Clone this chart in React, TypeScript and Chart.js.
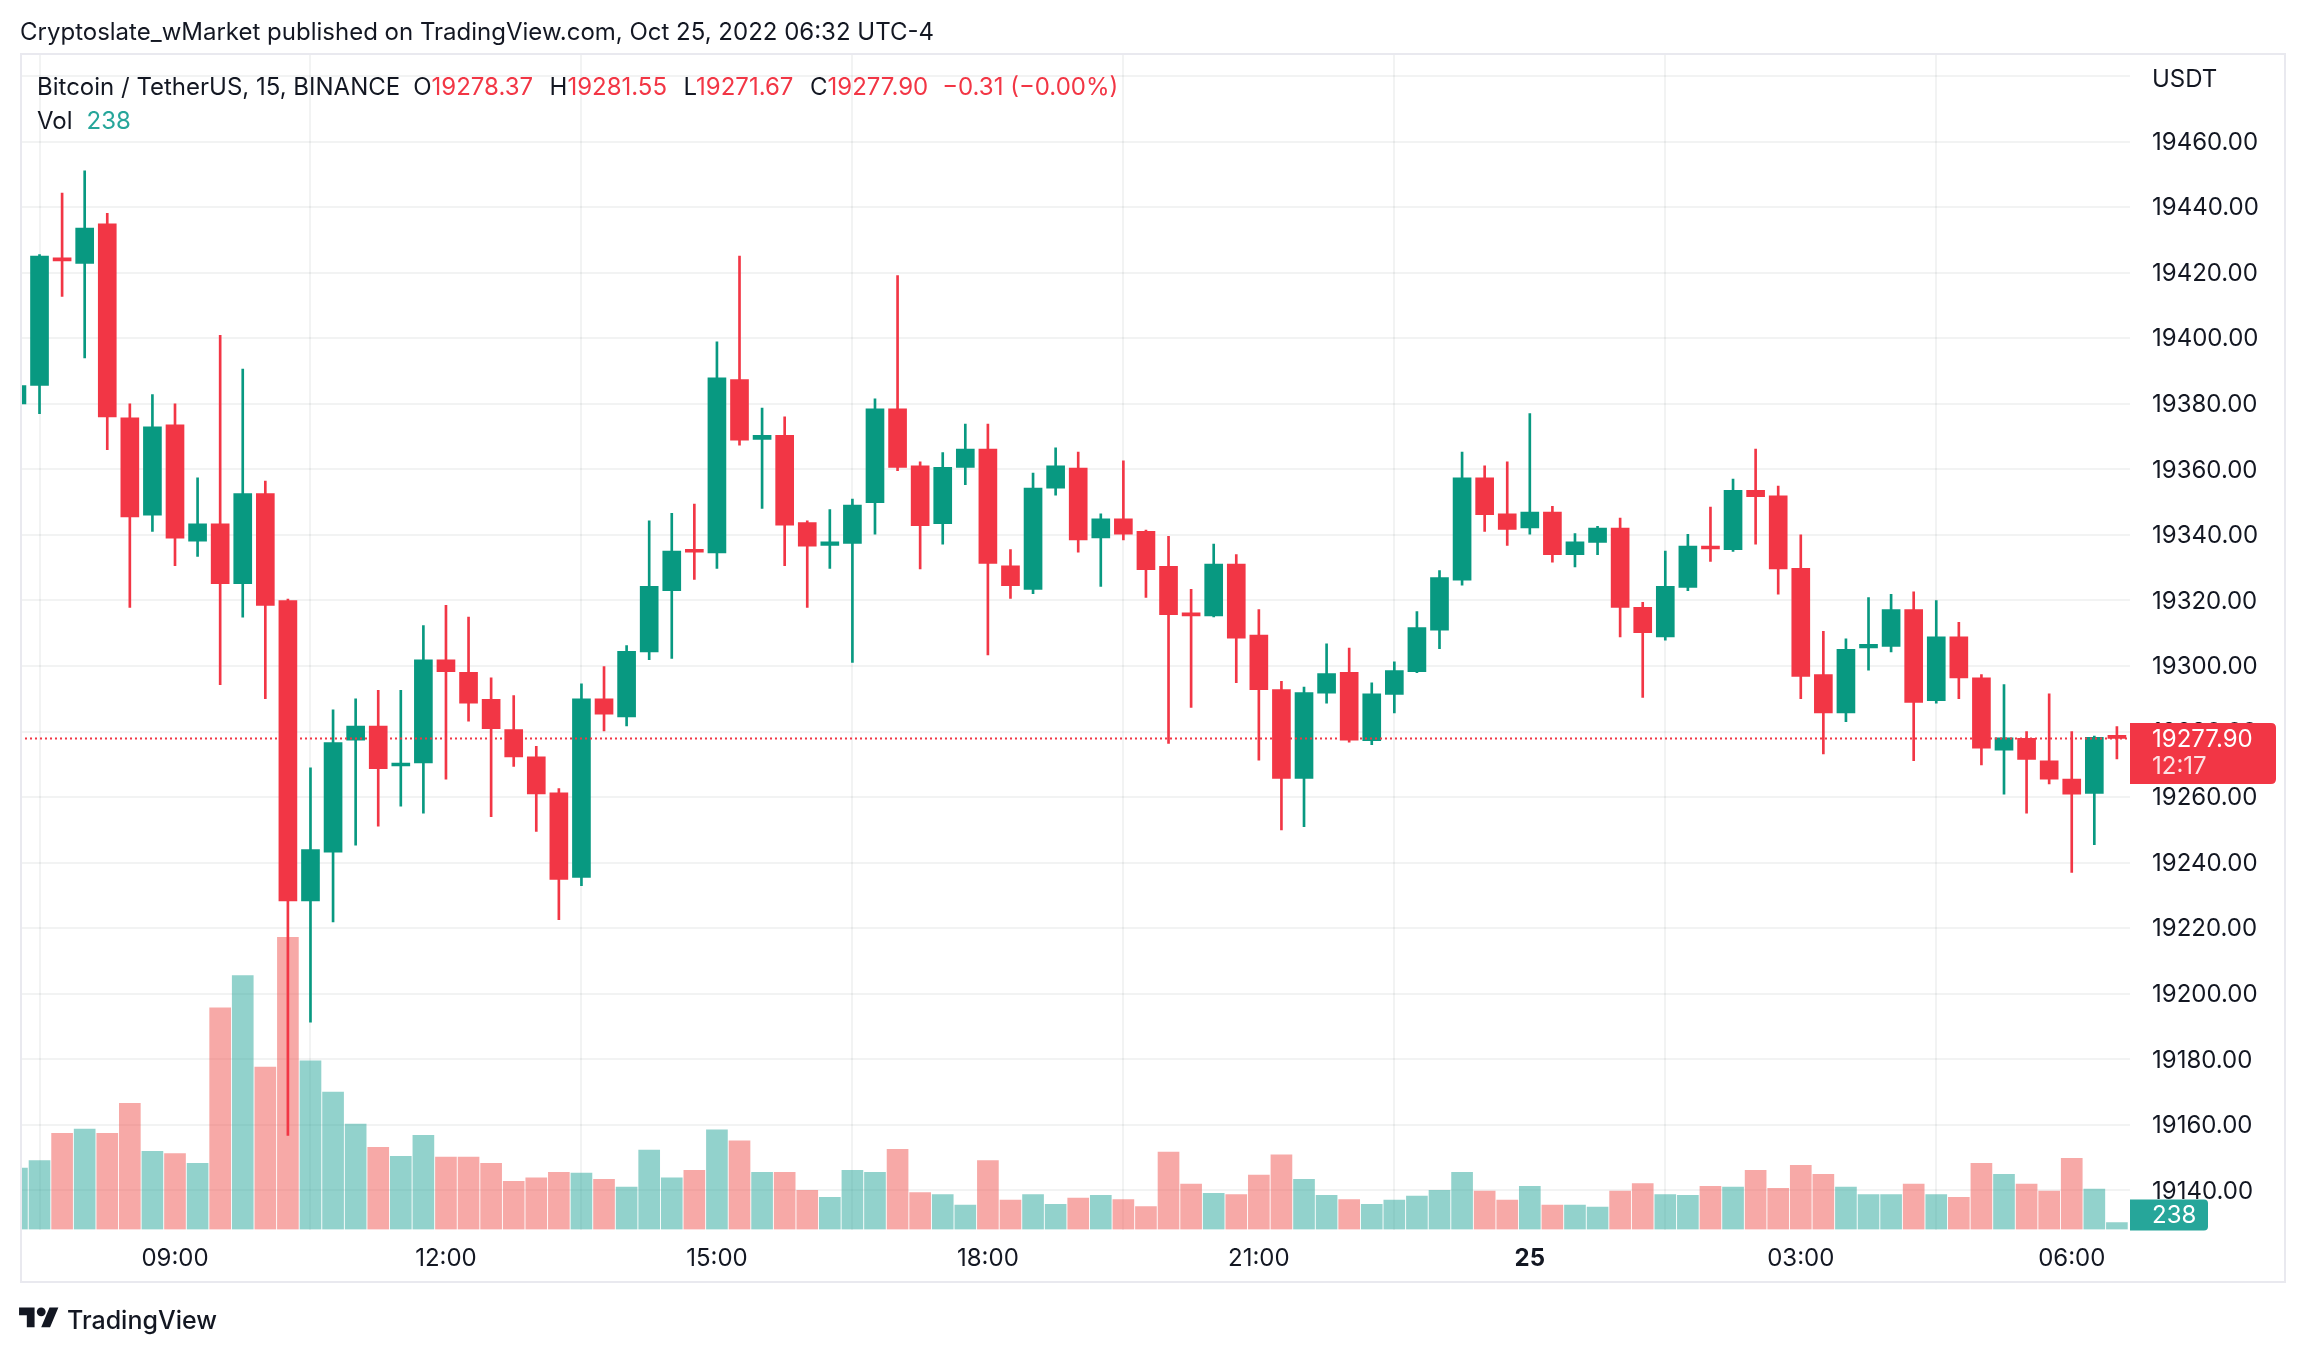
import React, { useEffect, useRef } from "react";
import { Chart, registerables } from "chart.js";

Chart.register(...registerables);

const W = 2306;
const H = 1354;

// 15-minute candles, BTC/USDT (Binance), from 07:15 (Oct 24) to 06:30 (Oct 25)
const opens = [
  19380.0, 19385.6, 19424.5, 19422.8, 19434.9, 19375.7, 19346.0, 19373.6, 19338.1, 19343.4,
  19325.1, 19352.6, 19320.0, 19228.3, 19243.2, 19277.4, 19281.7, 19269.5, 19270.4, 19301.9,
  19298.1, 19289.8, 19280.6, 19272.3, 19261.3, 19235.5, 19290.0, 19284.5, 19304.3, 19323.0,
  19335.5, 19334.5, 19387.4, 19369.1, 19370.4, 19343.8, 19336.8, 19337.4, 19349.8, 19378.5,
  19361.1, 19343.4, 19360.6, 19366.2, 19330.6, 19323.4, 19354.3, 19360.4, 19339.1, 19344.9,
  19341.1, 19330.4, 19316.0, 19315.3, 19331.1, 19309.4, 19292.8, 19265.7, 19291.7, 19298.1,
  19277.2, 19291.3, 19298.3, 19310.9, 19326.2, 19357.4, 19346.4, 19342.1, 19347.0, 19334.0,
  19337.7, 19342.1, 19317.9, 19308.9, 19324.0, 19336.6, 19335.5, 19353.6, 19351.9, 19329.8,
  19297.4, 19285.7, 19305.5, 19306.0, 19317.2, 19289.4, 19308.9, 19296.4, 19274.3, 19277.9,
  19271.1, 19265.5, 19261.1, 19278.37,
];
const highs = [
  19387.0, 19425.5, 19444.3, 19451.1, 19438.1, 19380.0, 19382.8, 19380.0, 19357.4, 19400.9,
  19390.6, 19356.4, 19320.4, 19268.9, 19286.6, 19290.0, 19292.6, 19292.6, 19312.3, 19318.5,
  19314.9, 19296.4, 19291.0, 19275.5, 19262.6, 19294.6, 19299.8, 19306.2, 19344.3, 19346.6,
  19349.4, 19398.9, 19425.1, 19378.7, 19376.0, 19344.3, 19347.7, 19350.9, 19381.5, 19419.1,
  19362.3, 19365.1, 19373.8, 19373.8, 19335.5, 19358.9, 19366.6, 19365.3, 19346.4, 19362.6,
  19341.5, 19339.6, 19323.4, 19337.2, 19334.0, 19317.2, 19295.3, 19293.6, 19306.8, 19305.5,
  19294.9, 19301.3, 19316.6, 19329.1, 19365.3, 19361.1, 19362.3, 19377.0, 19348.7, 19340.4,
  19342.6, 19345.1, 19319.4, 19335.1, 19340.2, 19348.5, 19357.0, 19366.2, 19354.9, 19340.0,
  19310.6, 19308.3, 19320.9, 19321.9, 19322.6, 19320.0, 19313.3, 19297.4, 19294.3, 19280.0,
  19291.5, 19280.0, 19278.6, 19281.55,
];
const lows = [
  19377.0, 19377.0, 19412.8, 19394.0, 19366.0, 19317.9, 19341.1, 19330.6, 19333.4, 19294.3,
  19314.9, 19290.0, 19156.8, 19191.3, 19221.9, 19245.3, 19251.1, 19257.2, 19255.1, 19265.5,
  19283.2, 19254.0, 19269.4, 19249.5, 19222.6, 19233.0, 19280.2, 19281.7, 19301.9, 19302.3,
  19326.4, 19329.8, 19367.4, 19348.1, 19330.6, 19317.9, 19329.8, 19301.1, 19340.2, 19359.6,
  19329.6, 19337.2, 19355.3, 19303.4, 19320.6, 19322.1, 19352.1, 19334.7, 19324.3, 19338.5,
  19320.9, 19276.4, 19287.4, 19315.0, 19294.9, 19271.3, 19250.0, 19251.0, 19288.7, 19276.8,
  19276.0, 19285.7, 19298.0, 19305.3, 19324.7, 19341.1, 19336.8, 19340.2, 19331.7, 19330.2,
  19334.0, 19308.9, 19290.4, 19307.9, 19323.0, 19331.9, 19335.0, 19337.2, 19321.9, 19290.0,
  19273.2, 19283.0, 19298.7, 19304.3, 19271.1, 19288.7, 19290.0, 19269.8, 19260.9, 19255.1,
  19264.0, 19237.0, 19245.5, 19271.67,
];
const closes = [
  19385.6, 19425.1, 19423.6, 19433.6, 19376.0, 19345.5, 19373.0, 19339.0, 19343.4, 19325.1,
  19352.6, 19318.5, 19228.3, 19244.0, 19276.6, 19281.7, 19268.7, 19270.1, 19301.9, 19298.3,
  19288.7, 19280.9, 19272.3, 19261.0, 19234.9, 19290.0, 19285.3, 19304.5, 19324.3, 19335.1,
  19334.7, 19387.9, 19368.9, 19370.4, 19343.0, 19336.6, 19337.9, 19349.1, 19378.5, 19360.6,
  19342.8, 19360.6, 19366.2, 19331.3, 19324.5, 19354.3, 19361.1, 19338.5, 19344.9, 19340.2,
  19329.4, 19315.7, 19315.3, 19331.1, 19308.5, 19292.8, 19265.7, 19291.9, 19297.7, 19277.4,
  19291.5, 19298.6, 19311.7, 19327.0, 19357.4, 19346.2, 19341.7, 19347.0, 19334.0, 19337.9,
  19342.1, 19317.9, 19310.2, 19324.3, 19336.6, 19335.7, 19353.6, 19351.7, 19329.6, 19296.8,
  19285.7, 19305.1, 19306.6, 19317.2, 19288.9, 19308.9, 19296.4, 19274.9, 19278.1, 19271.5,
  19265.5, 19260.9, 19278.21, 19277.9,
];
const volumes = [
  2094, 2356, 3284, 3427, 3284, 4308, 2666, 2594, 2261, 7568,
  8663, 5545, 9972, 5760, 4689, 3594, 2808, 2499, 3213, 2475,
  2475, 2261, 1642, 1761, 1952, 1928, 1714, 1452, 2713, 1761,
  2023, 3403, 3023, 1952, 1952, 1333, 1095, 2023, 1952, 2737,
  1261, 1190, 833, 2356, 1000, 1190, 857, 1071, 1166, 1023,
  785, 2642, 1547, 1238, 1190, 1856, 2547, 1714, 1166, 1023,
  857, 1000, 1142, 1333, 1952, 1309, 1000, 1476, 833, 833,
  762, 1309, 1571, 1190, 1166, 1476, 1452, 2023, 1404, 2190,
  1880, 1452, 1190, 1190, 1547, 1190, 1095, 2261, 1880, 1547,
  1309, 2428, 1380, 238,
];

// time axis
const timeTickIndex = [7, 19, 31, 43, 55, 67, 79, 91];
const timeTickLabels = ["09:00", "12:00", "15:00", "18:00", "21:00", "25", "03:00", "06:00"];
const dayBoundaryIndex = 67;

// price axis
const priceTicks = [19140, 19160, 19180, 19200, 19220, 19240, 19260, 19280, 19300, 19320, 19340, 19360, 19380, 19400, 19420, 19440, 19460, 19480];
const unitTick = 19480; // level where the axis shows the currency name instead of a number
const priceMin = 19128.07;
const priceMax = 19487.04;
const volumeAxisMax = 40154;
const currency = "USDT";
const countdown = "12:17";

const UP = "#089981";
const DOWN = "#f23645";
const VOL_UP = "rgba(38,166,154,0.5)";
const VOL_DOWN = "rgba(239,83,80,0.5)";
const VOL_LABEL = "#26a69a";
const TEXT = "#131722";
const GRID = "rgba(42,46,57,0.06)";
const BORDER = "#e9e9ef";
const FONT = "Inter, 'Noto Sans', sans-serif";

const LAST = opens.length - 1;
const lastPrice = closes[LAST];

const candleColors = opens.map((o, i) => (closes[i] >= o ? UP : DOWN));
// the live (last) bar's volume is shown in teal on the reference
const volumeColors = opens.map((o, i) => (i === LAST || closes[i] >= o ? VOL_UP : VOL_DOWN));

function roundRightRect(ctx: CanvasRenderingContext2D, x: number, y: number, w: number, h: number, r: number) {
  ctx.beginPath();
  ctx.moveTo(x, y);
  ctx.lineTo(x + w - r, y);
  ctx.quadraticCurveTo(x + w, y, x + w, y + r);
  ctx.lineTo(x + w, y + h - r);
  ctx.quadraticCurveTo(x + w, y + h, x + w - r, y + h);
  ctx.lineTo(x, y + h);
  ctx.closePath();
}

const overlayPlugin = {
  id: "tvOverlay",
  afterDatasetsDraw(chart: any) {
    const { ctx, chartArea, scales } = chart;
    const y = scales.y.getPixelForValue(lastPrice);
    ctx.save();
    ctx.strokeStyle = DOWN;
    ctx.lineWidth = 2;
    ctx.setLineDash([2, 3]);
    ctx.beginPath();
    ctx.moveTo(chartArea.left, y);
    ctx.lineTo(chartArea.right, y);
    ctx.stroke();
    ctx.restore();
  },
  afterDraw(chart: any) {
    const { ctx, chartArea, scales } = chart;
    ctx.save();
    ctx.font = `24px ${FONT}`;
    ctx.textBaseline = "middle";
    ctx.textAlign = "left";
    // currency name at the top of the price axis
    ctx.fillStyle = TEXT;
    ctx.fillText(currency, chartArea.right + 22, scales.y.getPixelForValue(unitTick) + 4);
    // last price label
    const py = scales.y.getPixelForValue(lastPrice);
    roundRightRect(ctx, chartArea.right, py - 15.5, 146, 61, 5);
    ctx.fillStyle = DOWN;
    ctx.fill();
    ctx.fillStyle = "#ffffff";
    ctx.fillText(lastPrice.toFixed(2), chartArea.right + 22, py + 1);
    ctx.fillStyle = "rgba(255,255,255,0.85)";
    ctx.fillText(countdown, chartArea.right + 22, py + 28);
    // volume label
    const vb = chartArea.bottom + 1;
    roundRightRect(ctx, chartArea.right, vb - 31, 78, 31, 4);
    ctx.fillStyle = VOL_LABEL;
    ctx.fill();
    ctx.fillStyle = "#ffffff";
    ctx.fillText(String(volumes[LAST]), chartArea.right + 22, vb - 15);
    // pane border
    ctx.strokeStyle = BORDER;
    ctx.lineWidth = 2;
    ctx.strokeRect(21, 54, 2264, 1228);
    ctx.restore();
  },
};

function ChartCanvas() {
  const ref = useRef<HTMLCanvasElement | null>(null);
  useEffect(() => {
    if (!ref.current) return;
    const chart = new Chart(ref.current, {
      type: "bar",
      data: {
        datasets: [
          {
            label: "body",
            data: opens.map((o, i) => ({ x: i, y: [o, closes[i]] })) as any,
            backgroundColor: candleColors,
            barThickness: 18,
            minBarLength: 3,
            grouped: false,
            yAxisID: "y",
            clip: 0,
            borderWidth: 0,
          } as any,
          {
            label: "wick",
            data: lows.map((l, i) => ({ x: i, y: [l, highs[i]] })) as any,
            backgroundColor: candleColors,
            barThickness: 2,
            grouped: false,
            yAxisID: "y",
            clip: 0,
            borderWidth: 0,
          } as any,
          {
            label: "volume",
            data: volumes.map((v, i) => ({ x: i, y: v })) as any,
            backgroundColor: volumeColors,
            barThickness: 21,
            grouped: false,
            yAxisID: "yv",
            clip: 0,
            borderWidth: 0,
          } as any,
        ],
      },
      options: {
        animation: false,
        responsive: false,
        devicePixelRatio: 1,
        events: [],
        layout: { padding: { left: 20, top: 53, right: 21, bottom: 71 } },
        plugins: { legend: { display: false }, tooltip: { enabled: false } },
        scales: {
          x: {
            type: "linear",
            min: 0.1355,
            max: 93.58,
            offset: false,
            border: { display: false },
            grid: { color: GRID, lineWidth: 2, drawTicks: false },
            afterBuildTicks: (s: any) => {
              s.ticks = timeTickIndex.map((v) => ({ value: v }));
            },
            afterFit: (s: any) => {
              s.height = 53.5;
            },
            ticks: {
              autoSkip: false,
              maxRotation: 0,
              padding: 15,
              color: TEXT,
              font: (c: any) => ({
                family: FONT,
                size: 24,
                weight: c.tick && c.tick.value === dayBoundaryIndex ? "bold" : "normal",
              }),
              callback: (v: any) => {
                const k = timeTickIndex.indexOf(Number(v));
                return k >= 0 ? timeTickLabels[k] : "";
              },
            },
          },
          y: {
            type: "linear",
            position: "right",
            min: priceMin,
            max: priceMax,
            border: { display: false },
            grid: { color: GRID, lineWidth: 2, drawTicks: false },
            afterBuildTicks: (s: any) => {
              s.ticks = priceTicks.map((v) => ({ value: v }));
            },
            afterFit: (s: any) => {
              s.width = 155;
            },
            ticks: {
              padding: 22,
              labelOffset: 1,
              color: TEXT,
              font: { family: FONT, size: 24 },
              callback: (v: any) => (Number(v) === unitTick ? "" : Number(v).toFixed(2)),
            },
          },
          yv: {
            type: "linear",
            display: false,
            min: 0,
            max: volumeAxisMax,
          },
        },
      } as any,
      plugins: [overlayPlugin],
    });
    return () => chart.destroy();
  }, []);
  return <canvas ref={ref} width={W} height={H} style={{ position: "absolute", left: 0, top: 0 }} />;
}

const change = closes[LAST] - closes[LAST - 1];
const changePct = (change / closes[LAST - 1]) * 100;
const signed = (v: number) => (v < 0 ? "\u2212" : "+") + Math.abs(v).toFixed(2);
const legendValues: [string, number][] = [
  ["O", opens[LAST]],
  ["H", highs[LAST]],
  ["L", lows[LAST]],
  ["C", closes[LAST]],
];
const legendColor = closes[LAST] >= opens[LAST] ? UP : DOWN;

export default function App() {
  return (
    <div
      style={{
        position: "absolute",
        left: 0,
        top: 0,
        width: W,
        height: H,
        background: "#ffffff",
        overflow: "hidden",
        fontFamily: FONT,
        color: TEXT,
      }}
    >
      <ChartCanvas />
      <div style={{ position: "absolute", left: 20, top: 20, fontSize: 24, lineHeight: "24px", whiteSpace: "nowrap" }}>
        Cryptoslate_wMarket published on TradingView.com, Oct 25, 2022 06:32 UTC-4
      </div>
      <div style={{ position: "absolute", left: 37, top: 74.5, fontSize: 24, lineHeight: "24px", whiteSpace: "nowrap", display: "flex" }}>
        <span>Bitcoin / TetherUS, 15, BINANCE</span>
        {legendValues.map(([k, v], i) => (
          <span key={k} style={{ marginLeft: i === 0 ? 13 : 16.5 }}>
            {k}
            <span style={{ color: legendColor }}>{v.toFixed(2)}</span>
          </span>
        ))}
        <span style={{ marginLeft: 14, color: legendColor }}>
          {signed(change)} ({signed(changePct)}%)
        </span>
      </div>
      <div style={{ position: "absolute", left: 37, top: 108.5, fontSize: 24, lineHeight: "24px", whiteSpace: "nowrap" }}>
        Vol<span style={{ marginLeft: 14, color: VOL_LABEL }}>{volumes[LAST]}</span>
      </div>
      <svg
        width={40}
        height={31}
        viewBox="0 0 36 28"
        style={{ position: "absolute", left: 19, top: 1303 }}
      >
        <path d="M14 22H7V11H0V4h14v18zM28 22h-8l7.5-18h8L28 22z" fill={TEXT} />
        <circle cx={20} cy={8} r={4} fill={TEXT} />
      </svg>
      <div style={{ position: "absolute", left: 67, top: 1308, fontSize: 25, lineHeight: "25px", fontWeight: 500, whiteSpace: "nowrap" }}>
        TradingView
      </div>
    </div>
  );
}
